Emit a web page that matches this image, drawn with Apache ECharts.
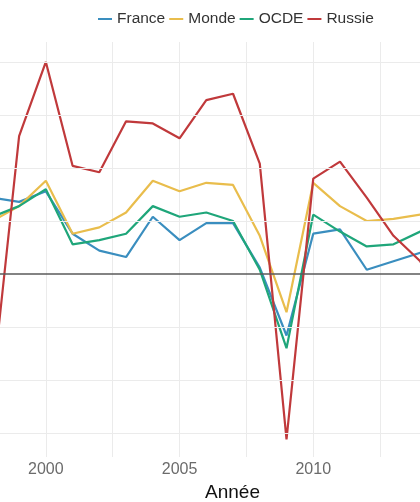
<!DOCTYPE html>
<html>
<head>
<meta charset="utf-8">
<script src="https://cdn.jsdelivr.net/npm/echarts@6/dist/echarts.min.js"></script>
<style>
  html, body { margin: 0; padding: 0; background: #fff; }
  #chart { width: 420px; height: 502px; }
</style>
</head>
<body>
<div id="chart"></div>
<script>
// croissance du PIB (%), par année
var years = [1998, 1999, 2000, 2001, 2002, 2003, 2004, 2005, 2006, 2007, 2008, 2009, 2010, 2011, 2012, 2013, 2014, 2015]
var france = [3.6, 3.4, 3.9, 1.9, 1.1, 0.8, 2.7, 1.6, 2.4, 2.4, 0.3, -2.9, 1.9, 2.1, 0.2, 0.6, 1.0, 1.1]
var monde = [2.5, 3.2, 4.4, 1.9, 2.2, 2.9, 4.4, 3.9, 4.3, 4.2, 1.8, -1.8, 4.3, 3.2, 2.5, 2.6, 2.8, 3.0]
var ocde = [2.7, 3.2, 4.0, 1.4, 1.6, 1.9, 3.2, 2.7, 2.9, 2.5, 0.2, -3.5, 2.8, 2.0, 1.3, 1.4, 2.0, 2.3]
var russie = [-5.3, 6.5, 10.0, 5.1, 4.8, 7.2, 7.1, 6.4, 8.2, 8.5, 5.2, -7.8, 4.5, 5.3, 3.6, 1.8, 0.6, -2.0]
var yGrid = [-7.5, -5, -2.5, 2.5, 5, 7.5, 10]

var names = ['France', 'Monde', 'OCDE', 'Russie']
var colors = ['#3a8ebf', '#e9bd4c', '#1fa67a', '#c0393b']
var values = [france, monde, ocde, russie]

function pairs(arr) {
  return years.map(function(y, i) { return [y, arr[i]] })
}

var chart = echarts.init(document.getElementById('chart'))

var series = [{
  name: 'grille',
  type: 'line',
  data: [],
  z: 1,
  silent: true,
  markLine: {
    silent: true,
    symbol: 'none',
    label: { show: false },
    data: yGrid.map(function(v) {
      return { yAxis: v, lineStyle: { color: '#ebebeb', width: 1, type: 'solid' } }
    }).concat([{ yAxis: 0, lineStyle: { color: '#5a5a5a', width: 1.5, type: 'solid' } }])
  }
}]
for (var i = 0; i < names.length; i++) {
  series.push({
    name: names[i],
    type: 'line',
    z: 3,
    data: pairs(values[i]),
    showSymbol: false,
    color: colors[i],
    lineStyle: { width: 2.2 }
  })
}

var option = {
  animation: false,
  backgroundColor: '#fff',
  legend: {
    data: names,
    left: 93,
    top: 6,
    icon: 'rect',
    itemWidth: 14,
    itemHeight: 2,
    itemGap: 4,
    textStyle: { fontFamily: 'Liberation Sans', fontSize: 15.5, color: '#333' }
  },
  grid: {
    left: -21,
    right: -66,
    top: 42,
    bottom: 45,
    containLabel: false,
    outerBoundsMode: 'none'
  },
  xAxis: {
    type: 'value',
    min: 1997.5,
    max: 2016.46,
    interval: 2.5,
    name: 'Année',
    nameLocation: 'middle',
    nameGap: 23,
    nameTextStyle: { fontFamily: 'Liberation Sans', fontSize: 19, color: '#111' },
    axisLine: { show: false },
    axisTick: { show: false },
    axisLabel: {
      margin: 5,
      fontFamily: 'Liberation Sans',
      fontSize: 16,
      color: '#6b6b6b',
      formatter: function(v) {
        return v % 5 === 0 ? String(v) : ''
      }
    },
    splitLine: { show: true, lineStyle: { color: '#ebebeb', width: 1 } }
  },
  yAxis: {
    type: 'value',
    min: -8.63,
    max: 10.94,
    axisLine: { show: false },
    axisTick: { show: false },
    axisLabel: { show: false },
    splitLine: { show: false }
  },
  series: series
}

chart.setOption(option)
</script>
</body>
</html>
